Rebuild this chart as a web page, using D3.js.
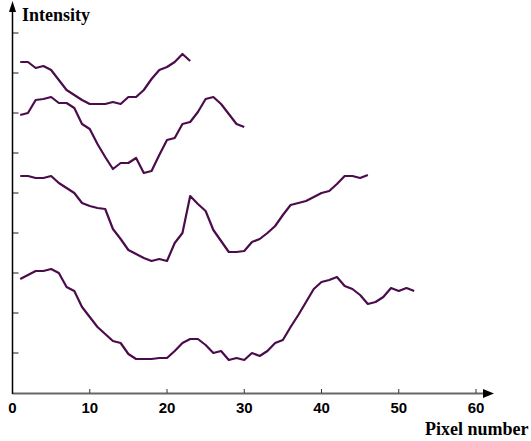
<!DOCTYPE html>
<html><head><meta charset="utf-8">
<script src="https://cdn.jsdelivr.net/npm/d3@7"></script>
<style>body{margin:0;background:#fff}svg{display:block}</style>
</head><body>
<svg id="chart" width="531" height="441"></svg>
<script>
// pixel index for each series starts at 1
const series1 = [331,331,325,327,323,313,303,298,293,289,289,289,291,289,296,296,303,314,323,326,331,339,332];
const series2 = [278,280,293,294,296,290,290,285,269,264,249,236,224,230,230,235,220,222,238,253,255,269,271,281,294,296,289,279,269,266];
const series3 = [217,217,215,215,217,210,205,200,190,187,185,184,164,154,143,139,135,132,134,132,150,160,197,189,182,163,152,141,141,142,151,154,160,167,178,188,190,192,196,200,202,209,217,217,215,218];
const series4 = [114,118,122,122,124,120,106,102,86,76,66,59,52,50,39,34,34,34,35,35,42,50,54,54,48,40,42,33,35,33,40,37,42,50,53,66,78,91,104,111,113,116,107,104,98,89,91,96,105,102,105,102];
const xTicks = [0,10,20,30,40,50,60];
const yTicks = [40,80,120,160,200,240,280,320,360];
const xTitle = "Pixel number";
const yTitle = "Intensity";

const svg = d3.select("#chart");
const x = d3.scaleLinear().domain([0,60]).range([12.5,476]);
const y = d3.scaleLinear().domain([0,390]).range([393,3]);
const lineColor = "#4b0c4b";

// y ticks
svg.append("g").selectAll("line").data(yTicks).join("line")
  .attr("x1", x(0)).attr("x2", x(0)+6)
  .attr("y1", d=>y(d)).attr("y2", d=>y(d))
  .attr("stroke","#444").attr("stroke-width",1.2);

// x axis line
svg.append("line").attr("x1",x(0)).attr("x2",484).attr("y1",393.5).attr("y2",393.5)
  .attr("stroke","#666").attr("stroke-width",2);
svg.append("path").attr("d","M483,389 L494,393.5 L483,398 Z").attr("fill","#000");
// x ticks
svg.append("g").selectAll("line").data(xTicks.slice(1)).join("line")
  .attr("x1", d=>x(d)).attr("x2", d=>x(d))
  .attr("y1", 393).attr("y2", 389)
  .attr("stroke","#333").attr("stroke-width",1);
svg.append("g").selectAll("text").data(xTicks).join("text")
  .attr("x", d=>x(d)).attr("y", 413)
  .attr("text-anchor","middle")
  .attr("font-family","Liberation Sans, Arial, sans-serif")
  .attr("font-weight","bold").attr("font-size",15)
  .text(d=>d);

// y axis line
svg.append("line").attr("x1",x(0)).attr("x2",x(0)).attr("y1",394).attr("y2",10)
  .attr("stroke","#000").attr("stroke-width",1.5);
svg.append("path").attr("d",`M${x(0)-3.5},12 L${x(0)},1 L${x(0)+3.5},12 Z`).attr("fill","#000");

// titles
svg.append("text").attr("x",22).attr("y",21)
  .attr("font-family","Liberation Serif, Times New Roman, serif")
  .attr("font-weight","bold").attr("font-size",18).text(yTitle);
svg.append("text").attr("x",425).attr("y",435)
  .attr("font-family","Liberation Serif, Times New Roman, serif")
  .attr("font-weight","bold").attr("font-size",18).text(xTitle);

// lines
const line = d3.line().x((d,i)=>x(i+1)).y(d=>y(d));
svg.append("g").selectAll("path").data([series1,series2,series3,series4]).join("path")
  .attr("d", line)
  .attr("fill","none").attr("stroke",lineColor)
  .attr("stroke-width",2.2).attr("stroke-linejoin","round");
</script>
</body></html>
